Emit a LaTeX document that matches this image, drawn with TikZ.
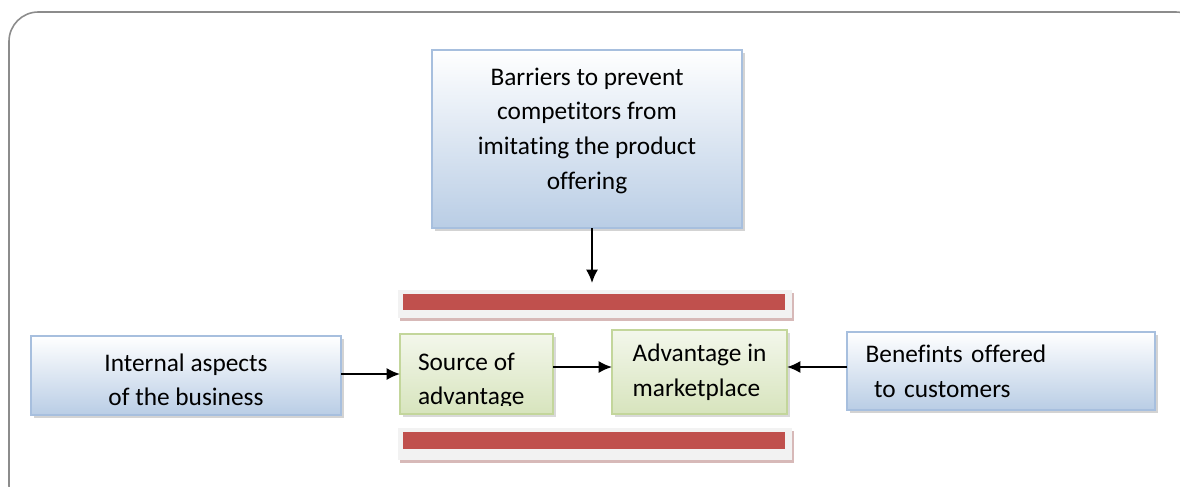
\documentclass[tikz,border=0pt]{standalone}
\usepackage{fontspec}
\setmainfont{Carlito}[Ligatures=NoCommon]
\usetikzlibrary{arrows.meta,shadows}
\definecolor{boxblue}{HTML}{B9CDE5}
\definecolor{lineblue}{HTML}{A7BFDE}
\definecolor{boxgreen}{HTML}{D7E4BD}
\definecolor{linegreen}{HTML}{C3D69B}
\definecolor{barred}{HTML}{C0504D}
\definecolor{framegray}{HTML}{8C8C8C}

\begin{document}
\begin{tikzpicture}[
		x=0.75pt, y=-0.75pt,
		every node/.style={inner sep=0pt, outer sep=0pt, font=\fontsize{19}{26}\selectfont},
		bluebox/.style={draw=lineblue, line width=0.8pt, top color=white, bottom color=boxblue,
			drop shadow={shadow xshift=2.5pt, shadow yshift=-2.5pt, opacity=0.35, fill=gray}},
		greenbox/.style={draw=linegreen, line width=0.8pt, top color=white!70!boxgreen, bottom color=boxgreen,
			drop shadow={shadow xshift=2pt, shadow yshift=-2pt, opacity=0.3, fill=gray}},
		barback/.style={fill=black!5, drop shadow={shadow xshift=1.5pt, shadow yshift=-2pt, opacity=0.45, fill=barred!60!gray}},
		bar/.style={fill=barred},
		arrow/.style={-{Latex[length=10pt,width=9pt]}, line width=1.3pt}
		]
		\useasboundingbox (0,0) rectangle (1180,486);
		% outer frame, cut by the page edge
		\draw[framegray, line width=1.2pt, rounded corners=22pt] (9,12) rectangle (1205,515);
		
		\node[bluebox, minimum width=232.5pt, minimum height=133.5pt, text depth=16pt, align=center] (barriers) at (587,139)
		{Barriers to prevent\\competitors from\\imitating the product\\offering};
		\node[bluebox, minimum width=232.5pt, minimum height=59.25pt, text height=45.5pt, align=center] (internal) at (186,375.5)
		{Internal aspects\\of the business};
		\node[bluebox, minimum width=231pt, minimum height=58.5pt, text width=203pt, inner xsep=14pt, align=left] (benefits) at (1001,371)
		{Benefints offered\\\ to customers};
		
		% red bars above and below
		\node[barback, minimum width=295.5pt, minimum height=21pt] (topbar) at (595,304) {};
		\node[bar, minimum width=286.5pt, minimum height=12pt] at (594,302) {};
		\node[barback, minimum width=295.5pt, minimum height=24pt] (botbar) at (595,444) {};
		\node[bar, minimum width=286.5pt, minimum height=12.75pt] at (594,440.5) {};
		
		\node[greenbox, minimum width=114.75pt, minimum height=60pt] (source) at (476.5,374) {};
		\begin{scope}
			\clip (source.north west) rectangle (source.east |- 0,405);
			\node[anchor=west, align=left] (sourcetext) at (418,381) {Source of\\advantage};
		\end{scope}
		\node[greenbox, minimum width=131.25pt, minimum height=63pt, align=left] (market) at (699.5,372)
		{Advantage in\\marketplace};
		
		\coordinate (bartop) at (592,283);
		\draw[arrow] (barriers.south -| bartop) -- (bartop);
		\draw[arrow] (internal.east |- source.west) -- (source.west);
		\draw[arrow] (source.east |- 0,367) -- (market.west |- 0,367);
		\draw[arrow] (benefits.west |- 0,367) -- (market.east |- 0,367);
		\end{tikzpicture}
\end{document}
